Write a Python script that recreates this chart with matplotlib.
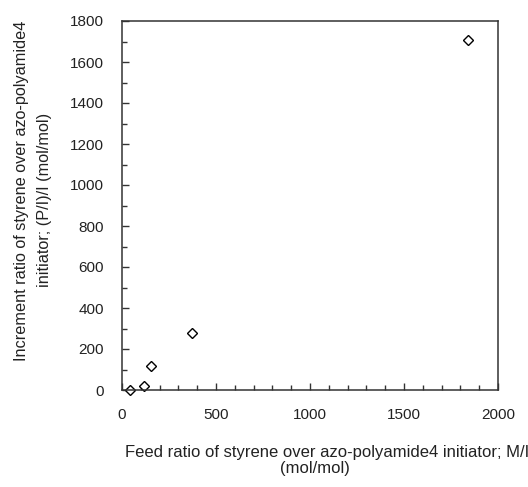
import matplotlib
matplotlib.use("Agg")
import matplotlib.pyplot as plt
from matplotlib.ticker import MultipleLocator

plt.rcParams['font.family'] = ['Liberation Sans', 'DejaVu Sans']

feed_ratio = [40, 118, 155, 374, 1840]
increment_ratio = [0, 18, 118, 280, 1705]

W, H = 528, 487
fig = plt.figure(figsize=(W / 100, H / 100), dpi=100)
ax = fig.add_axes([122 / W, 1 - 390 / H, (498 - 122) / W, (390 - 21) / H])
ax.plot(feed_ratio, increment_ratio, linestyle='none', marker='D', markersize=5.3,
        markerfacecolor='white', markeredgecolor='black', markeredgewidth=1.0, clip_on=False)
ax.set_xlim(0, 2000)
ax.set_ylim(0, 1800)
ax.xaxis.set_major_locator(MultipleLocator(500))
ax.xaxis.set_minor_locator(MultipleLocator(100))
ax.yaxis.set_major_locator(MultipleLocator(200))
ax.yaxis.set_minor_locator(MultipleLocator(100))
for s in ax.spines.values():
    s.set_color('#333333')
    s.set_linewidth(1.1)
ax.tick_params(axis='both', which='both', direction='in', top=False, right=False,
               colors='#333333', width=1.0)
ax.tick_params(which='major', length=5, labelsize=11, pad=13, labelcolor='#222222')
ax.tick_params(which='minor', length=3.5)

fig.text(327 / W, 1 - 453 / H, 'Feed ratio of styrene over azo-polyamide4 initiator; M/I',
         ha='center', va='center', fontsize=12, color='#222222')
fig.text(315 / W, 1 - 468 / H, '(mol/mol)',
         ha='center', va='center', fontsize=12, color='#222222')
fig.text(22 / W, 1 - 191 / H, 'Increment ratio of styrene over azo-polyamide4',
         ha='center', va='center', rotation=90, fontsize=11.7, color='#222222')
fig.text(45 / W, 1 - 200 / H, 'initiator; (P/I)/I (mol/mol)',
         ha='center', va='center', rotation=90, fontsize=11.7, color='#222222')
fig.savefig('out.png', dpi=100)
